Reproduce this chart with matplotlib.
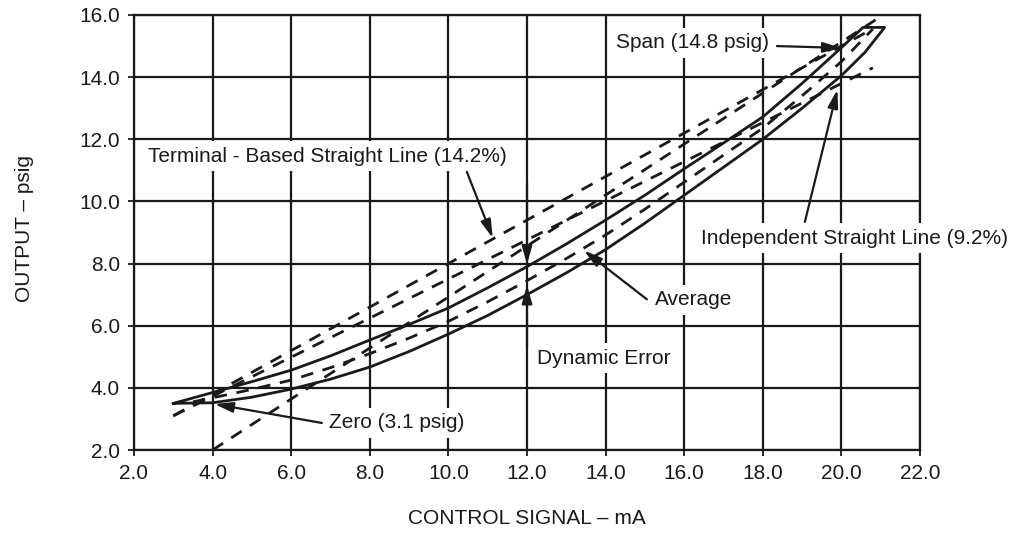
import matplotlib
matplotlib.use("Agg")
import matplotlib.pyplot as plt

plt.rcParams['font.family'] = ['Liberation Sans', 'DejaVu Sans']

# ---------------- data ----------------
# hysteresis loop: upscale (upper) and downscale (lower) solid curves
up_x = [3.0, 4.0, 5.0, 6.0, 7.0, 8.0, 9.0, 10.0, 11.0, 12.0, 13.0, 14.0, 15.0, 16.0, 17.0, 18.0, 19.0, 20.0, 20.55]
up_y = [3.5, 3.85, 4.2, 4.57, 5.03, 5.54, 6.04, 6.57, 7.22, 7.9, 8.63, 9.4, 10.2, 11.05, 11.88, 12.72, 13.8, 14.95, 15.6]
lo_x = [3.0, 4.0, 5.0, 6.0, 7.0, 8.0, 9.0, 10.0, 11.0, 12.0, 13.0, 14.0, 15.0, 16.0, 17.0, 18.0, 19.0, 20.0, 20.6, 21.1]
lo_y = [3.5, 3.52, 3.7, 3.96, 4.28, 4.67, 5.17, 5.73, 6.33, 7.0, 7.7, 8.45, 9.3, 10.2, 11.1, 12.0, 13.0, 14.05, 14.8, 15.6]

# average curve (dashed)
avg_x = [3.5, 4.0, 5.0, 6.0, 7.0, 8.0, 9.0, 10.0, 11.0, 12.0, 13.0, 14.0, 15.0, 16.0, 17.0, 18.0, 19.0, 20.0, 20.8]
avg_y = [3.55, 3.68, 3.95, 4.25, 4.65, 5.1, 5.6, 6.14, 6.77, 7.45, 8.16, 8.92, 9.75, 10.62, 11.49, 12.36, 13.4, 14.5, 15.55]

# straight dashed reference lines
terminal_x = [3.0, 20.6]
terminal_y = [3.1, 15.42]
independent_x = [3.0, 20.8]
independent_y = [3.1, 14.3]
steep_x = [4.0, 21.0]
steep_y = [2.0, 15.95]

x_ticks = [2.0, 4.0, 6.0, 8.0, 10.0, 12.0, 14.0, 16.0, 18.0, 20.0, 22.0]
y_ticks = [2.0, 4.0, 6.0, 8.0, 10.0, 12.0, 14.0, 16.0]

# annotations: (text, text position, arrow tail, arrow tip)
labels = [
    ("Span (14.8 psig)", (14.26, 15.1), (18.36, 15.0), (20.0, 14.94)),
    ("Terminal - Based Straight Line (14.2%)", (2.36, 11.46), (10.47, 10.95), (11.13, 8.82)),
    ("Independent Straight Line (9.2%)", (16.43, 8.82), (19.07, 9.34), (19.9, 13.6)),
    ("Average", (15.26, 6.83), (15.05, 6.85), (13.45, 8.42)),
    ("Dynamic Error", (12.25, 4.96), None, None),
    ("Zero (3.1 psig)", (6.96, 2.87), (6.78, 2.87), (4.05, 3.48)),
]
dyn_arrows = [((12.0, 10.6), (12.0, 7.97)), ((12.0, 5.31), (12.0, 7.31))]

# ---------------- figure ----------------
fig = plt.figure(figsize=(10.09, 5.47), dpi=100)
ax = fig.add_axes([134/1009, 1-450/547, (920-134)/1009, (450-15)/547])

ink = '#1a1a1a'
ax.set_xlim(2, 22)
ax.set_ylim(2, 16)
ax.set_xticks(x_ticks)
ax.set_yticks(y_ticks)
ax.set_xticklabels([f"{v:.1f}" for v in x_ticks])
ax.set_yticklabels([f"{v:.1f}" for v in y_ticks])
ax.tick_params(direction='out', length=4, width=1.3, colors=ink, labelsize=15, pad=6)
ax.grid(True, color=ink, linewidth=1.6)
ax.set_axisbelow(True)
for s in ax.spines.values():
    s.set_linewidth(1.6)
    s.set_color(ink)
    s.set_zorder(1.5)

dash = (0, (4.5, 3.5))
# loop
ax.plot(up_x + lo_x[::-1], up_y + lo_y[::-1], color=ink, lw=2.0, zorder=3)
ax.plot(avg_x, avg_y, color=ink, lw=2.0, ls=dash, zorder=3)
ax.plot(terminal_x, terminal_y, color=ink, lw=2.0, ls=dash, zorder=3)
ax.plot(independent_x, independent_y, color=ink, lw=2.0, ls=dash, zorder=3)
ax.plot(steep_x, steep_y, color=ink, lw=2.0, ls=dash, zorder=3)

aprops = dict(arrowstyle='-|>,head_length=0.5,head_width=0.14', color=ink, lw=1.6,
              mutation_scale=22, shrinkA=0, shrinkB=0)
for txt, pos, tail, tip in labels:
    ax.text(pos[0], pos[1], txt, fontsize=15, color=ink, ha='left', va='center',
            bbox=dict(facecolor='white', edgecolor='none', pad=4), zorder=6, clip_on=False)
    if tail is not None:
        ax.annotate('', xy=tip, xytext=tail, arrowprops=aprops, zorder=7, annotation_clip=False)
for tail, tip in dyn_arrows:
    ax.annotate('', xy=tip, xytext=tail, arrowprops=aprops, zorder=7)

fig.text(25/1009, 1-228/547, "OUTPUT – psig", rotation=90, ha='center', va='center', fontsize=15, color=ink)
fig.text(527/1009, 1-518/547, "CONTROL SIGNAL – mA", ha='center', va='center', fontsize=15, color=ink)

fig.savefig("out.png", dpi=100, facecolor='white')
